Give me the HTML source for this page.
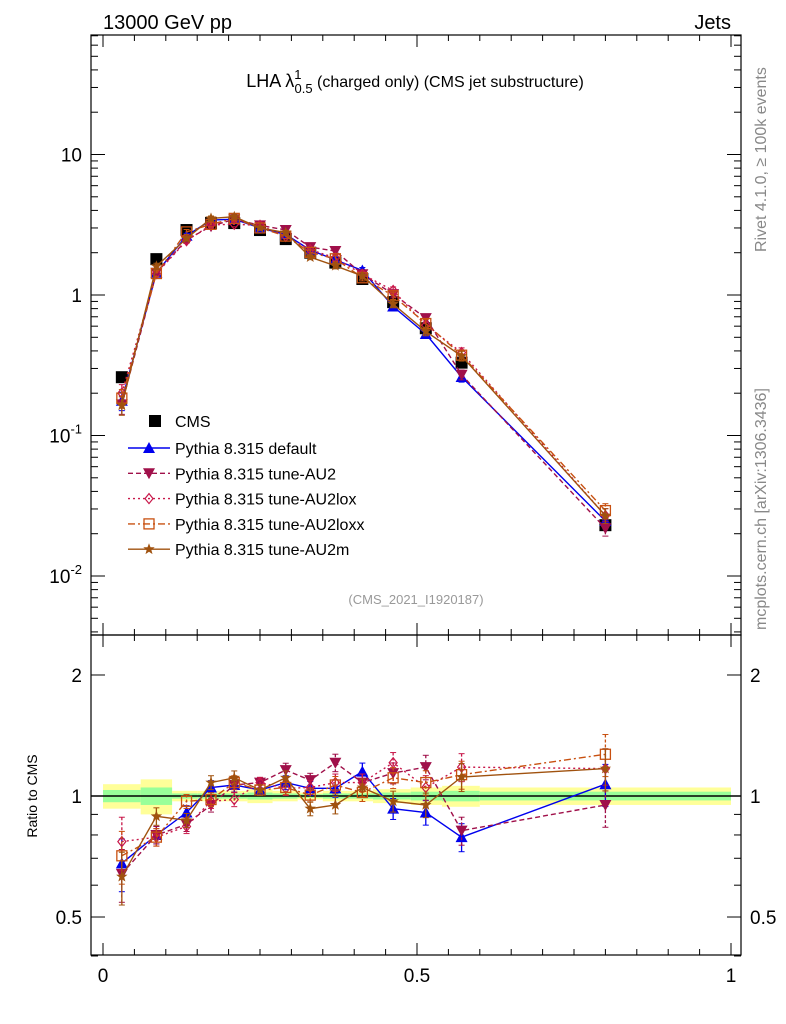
<!DOCTYPE html>
<html><head><meta charset="utf-8"><style>
html,body{margin:0;padding:0;background:#fff;}
svg{display:block;font-family:"Liberation Sans",sans-serif;}
</style></head><body>
<svg id="c" width="786" height="1024" xmlns="http://www.w3.org/2000/svg">
<text x="103" y="29" font-size="20">13000 GeV pp</text>
<text x="731" y="29" font-size="20" text-anchor="end">Jets</text>
<text x="415" y="87" font-size="18" text-anchor="middle">LHA λ<tspan font-size="13" dy="-8">1</tspan><tspan font-size="13" dx="-7" dy="14">0.5</tspan><tspan font-size="16" dy="-6"> (charged only) (CMS jet substructure)</tspan></text>
<text x="416" y="604" font-size="13" fill="#999" text-anchor="middle">(CMS_2021_I1920187)</text>
<text transform="translate(766,252) rotate(-90)" font-size="16" fill="#888">Rivet 4.1.0, ≥ 100k events</text>
<text transform="translate(766,630) rotate(-90)" font-size="16" fill="#888">mcplots.cern.ch [arXiv:1306.3436]</text>
<text transform="translate(37,796) rotate(-90)" font-size="14" text-anchor="middle">Ratio to CMS</text>
<g id="g"></g>
</svg>
<script>
const xs=[0.03,0.085,0.133,0.172,0.209,0.25,0.291,0.33,0.37,0.413,0.462,0.514,0.571,0.8];
const cms=[0.26,1.8,2.9,3.25,3.25,2.9,2.5,2.0,1.7,1.3,0.89,0.58,0.33,0.023];
const relErr=[0.15,0.05,0.04,0.04,0.04,0.03,0.04,0.04,0.05,0.05,0.06,0.07,0.08,0.12];
const rDefault=[0.68,0.80,0.91,1.05,1.065,1.035,1.08,1.045,1.045,1.15,0.93,0.91,0.79,1.07];
const rAU2=[0.64,0.80,0.85,0.95,1.065,1.08,1.16,1.095,1.21,1.08,1.14,1.18,0.82,0.95];
const rAU2lox=[0.77,0.79,0.84,0.97,0.98,1.08,1.045,1.05,1.08,1.08,1.21,1.05,1.18,1.17];
const rAU2loxx=[0.71,0.79,0.97,0.98,1.08,1.035,1.05,1.005,1.065,1.02,1.11,1.08,1.13,1.27];
const rAU2m=[0.63,0.89,0.87,1.08,1.11,1.035,1.11,0.93,0.95,1.05,0.97,0.95,1.115,1.17];
const binEdges=[0,0.06,0.11,0.15,0.19,0.23,0.27,0.31,0.35,0.39,0.43,0.49,0.54,0.6,1.0];
const bandYellow=[0.07,0.10,0.03,0.03,0.03,0.04,0.03,0.02,0.03,0.03,0.04,0.05,0.06,0.05];
const bandGreen=[0.035,0.05,0.015,0.015,0.015,0.02,0.015,0.01,0.015,0.015,0.02,0.025,0.03,0.025];
const xTicks=[0,0.5,1];const xTickLabels=["0","0.5","1"];

const L=91,R=741,T1=35,B1=635,T2=635,B2=955;
const X=v=>103+628*v;
const Y1=v=>295-140.5*Math.log10(v);
const Y2=r=>796-402*Math.log10(r);
const g=document.getElementById('g');
const NS="http://www.w3.org/2000/svg";
function mk(t,a,p){const e=document.createElementNS(NS,t);for(const k in a)e.setAttribute(k,a[k]);(p||g).appendChild(e);return e;}

for(let i=0;i<binEdges.length-1;i++){
 const y=mk('rect',{x:X(binEdges[i]),width:X(binEdges[i+1])-X(binEdges[i]),y:Y2(1+bandYellow[i]),height:Y2(1-bandYellow[i])-Y2(1+bandYellow[i]),fill:'#ffff99'});
 
 
 const gr=mk('rect',{x:X(binEdges[i]),width:X(binEdges[i+1])-X(binEdges[i]),y:Y2(1+bandGreen[i]),height:Y2(1-bandGreen[i])-Y2(1+bandGreen[i]),fill:'#99ff99'});
 
 
}
const one=mk('line',{x1:L,x2:R,y1:Y2(1),y2:Y2(1),stroke:'#000','stroke-width':1.5});



for(const [t,b,n] of [[T1,B1,'main-frame'],[T2,B2,'ratio-frame']]){
 const f=mk('rect',{x:L,y:t,width:R-L,height:b-t,fill:'none',stroke:'#000','stroke-width':1.2});
 
 
}
for(const bt of [[T1,B1],[T2,B2]]){
 for(let v=0;v<=1.0001;v+=0.05){
  const big=Math.abs(v*10-Math.round(v*10))<1e-6 && Math.round(v*10)%5==0;
  const len=big?12:6;
  mk('line',{x1:X(v),x2:X(v),y1:bt[1],y2:bt[1]-len,stroke:'#000'});
  mk('line',{x1:X(v),x2:X(v),y1:bt[0],y2:bt[0]+len,stroke:'#000'});
 }
}
xTicks.forEach((v,i)=>{const t=mk('text',{x:X(v),y:982,'font-size':19,'text-anchor':'middle'});t.textContent=xTickLabels[i];
 
 });
for(let d=-3;d<=1;d++){for(let m=1;m<10;m++){const v=m*Math.pow(10,d);const y=Y1(v);if(y<T1||y>B1)continue;
 const len=m==1?14:7;mk('line',{x1:L,x2:L+len,y1:y,y2:y,stroke:'#000'});mk('line',{x1:R,x2:R-len,y1:y,y2:y,stroke:'#000'});}}
const mainLabs=[[10,'10'],[1,'1']];
mainLabs.forEach(([v,s])=>{const t=mk('text',{x:82,y:Y1(v)+7,'font-size':19,'text-anchor':'end'});t.textContent=s;
 
 });
[[0.1,'-1'],[0.01,'-2']].forEach(([v,e])=>{const t=mk('text',{x:82,y:Y1(v)+7,'font-size':19,'text-anchor':'end'});t.innerHTML='10<tspan font-size="13" dy="-9">'+e+'</tspan>';
 
 });
for(const v of [0.4,0.5,0.6,0.7,0.8,0.9,1,2]){const y=Y2(v);const len=(v==0.5||v==1||v==2)?14:7;
 mk('line',{x1:L,x2:L+len,y1:y,y2:y,stroke:'#000'});mk('line',{x1:R,x2:R-len,y1:y,y2:y,stroke:'#000'});}
[[2,'2'],[1,'1'],[0.5,'0.5']].forEach(([v,s])=>{
 const t=mk('text',{x:82,y:Y2(v)+7,'font-size':19,'text-anchor':'end'});t.textContent=s;
 
 
 const t2=mk('text',{x:750,y:Y2(v)+7,'font-size':19});t2.textContent=s;
 
 });

function marker(p,type,x,y,col){
 const s=5;
 if(type=='tri')return mk('polygon',{points:`${x},${y-s-1} ${x-s-1},${y+s} ${x+s+1},${y+s}`,fill:col},p);
 if(type=='tridown')return mk('polygon',{points:`${x},${y+s+1} ${x-s-1},${y-s} ${x+s+1},${y-s}`,fill:col},p);
 if(type=='diamond')return mk('polygon',{points:`${x},${y-5} ${x-4},${y} ${x},${y+5} ${x+4},${y}`,fill:'none',stroke:col,'stroke-width':1.2},p);
 if(type=='osq')return mk('rect',{x:x-5,y:y-5,width:10,height:10,fill:'none',stroke:col,'stroke-width':1.3},p);
 if(type=='star'){let pts=[];for(let k=0;k<10;k++){const r=k%2?2.5:6;const a=-Math.PI/2+k*Math.PI/5;pts.push((x+r*Math.cos(a)).toFixed(1)+','+(y+r*Math.sin(a)).toFixed(1));}return mk('polygon',{points:pts.join(' '),fill:col},p);}
 if(type=='sq')return mk('rect',{x:x-6,y:y-6,width:12,height:12,fill:col},p);
}
const series=[
 {name:'Pythia 8.315 default',r:rDefault,col:'#0000ee',dash:'',m:'tri',id:'default'},
 {name:'Pythia 8.315 tune-AU2',r:rAU2,col:'#a0104a',dash:'5,3',m:'tridown',id:'au2'},
 {name:'Pythia 8.315 tune-AU2lox',r:rAU2lox,col:'#c8184a',dash:'2,3',m:'diamond',id:'au2lox'},
 {name:'Pythia 8.315 tune-AU2loxx',r:rAU2loxx,col:'#c85010',dash:'7,3,2,3',m:'osq',id:'au2loxx'},
 {name:'Pythia 8.315 tune-AU2m',r:rAU2m,col:'#a0520f',dash:'',m:'star',id:'au2m'}];

const cg=mk('g',{});
xs.forEach((x,i)=>{const y=Y1(cms[i]);marker(cg,'sq',X(x),y,'#000');});

series.forEach(s=>{
 for(const panel of [1,2]){
  const sg=mk('g',{});
  
  
  const Yf=panel==1?(i=>Y1(cms[i]*s.r[i])):(i=>Y2(s.r[i]));
  const Yv=panel==1?(i,f)=>Y1(cms[i]*s.r[i]*f):(i,f)=>Y2(s.r[i]*f);
  const pts=xs.map((x,i)=>X(x).toFixed(1)+','+Yf(i).toFixed(1)).join(' ');
  mk('polyline',{points:pts,fill:'none',stroke:s.col,'stroke-width':1.4,'stroke-dasharray':s.dash},sg);
  xs.forEach((x,i)=>{const px=X(x);const e=relErr[i];
   mk('line',{x1:px,x2:px,y1:Yv(i,1+e),y2:Yv(i,1-e),stroke:s.col,'stroke-width':1.3,'stroke-dasharray':s.dash?'3,2':''},sg);
   mk('line',{x1:px-3,x2:px+3,y1:Yv(i,1+e),y2:Yv(i,1+e),stroke:s.col},sg);
   mk('line',{x1:px-3,x2:px+3,y1:Yv(i,1-e),y2:Yv(i,1-e),stroke:s.col},sg);
   marker(sg,s.m,px,Yf(i),s.col);});
 }
});

const lg=mk('g',{});
marker(lg,'sq',155,421,'#000');
let t=mk('text',{x:175,y:427,'font-size':16},lg);t.textContent='CMS';
series.forEach((s,k)=>{const y=448+k*25.3;
 const e=mk('g',{},lg);
 
 
 mk('line',{x1:128,x2:170,y1:y,y2:y,stroke:s.col,'stroke-width':1.4,'stroke-dasharray':s.dash},e);
 marker(e,s.m,149,y,s.col);
 const tx=mk('text',{x:175,y:y+6,'font-size':16},e);tx.textContent=s.name;});
</script>
</body></html>
